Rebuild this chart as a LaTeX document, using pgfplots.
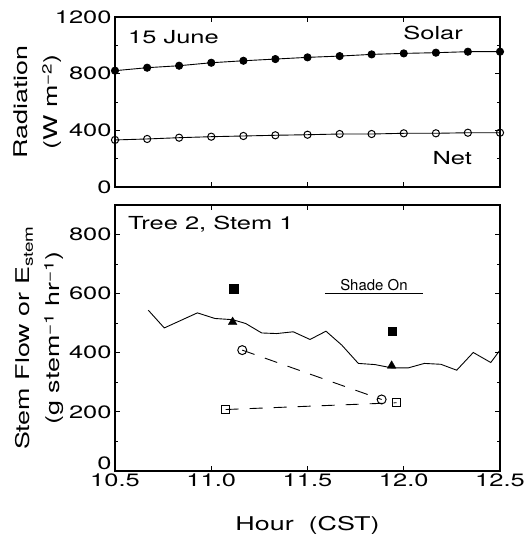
\documentclass[border=0pt]{standalone}
\usepackage{fontspec}
\setmainfont[FakeStretch=1.42]{TeX Gyre Heros}
\newfontfamily\plainfont{TeX Gyre Heros}
\usepackage{pgfplots}
\pgfplotsset{compat=1.18}

\pgfplotsset{
  panel/.style={
    scale only axis,
    width=385bp,
    xmin=10.5, xmax=12.5,
    xtick={10.5,11.0,11.5,12.0,12.5},
    tick align=inside,
    major tick length=5bp,
    minor tick length=3bp,
    axis line style={line width=1.1pt},
    tick style={line width=0.9pt, black},
    every tick label/.append style={font=\fontsize{18}{20}\selectfont},
    /pgf/number format/assume math mode=true,
    /pgf/number format/1000 sep={},
    clip=false,
  },
}

\begin{document}
\begin{tikzpicture}[x=1bp,y=1bp]
\useasboundingbox (0,0) rectangle (530,539);

% upper panel: radiation
\begin{axis}[panel,
  at={(115bp,352bp)}, anchor=south west,
  height=170bp,
  ymin=0, ymax=1200,
  ytick={0,400,800,1200},
  minor ytick={200,600,1000},
  xticklabels={},
]
\addplot[black, line width=0.9pt, mark=*, mark size=3.6bp,
  mark options={fill=black}] coordinates {
(10.5,821) (10.667,842) (10.833,856) (11.0,877) (11.167,891) (11.333,903)
(11.5,915) (11.667,924) (11.833,936) (12.0,943) (12.167,948) (12.333,955) (12.5,955)
};
\addplot[black, line width=0.9pt, mark=o, mark size=3.6bp,
  mark options={fill=white, line width=1pt}] coordinates {
(10.5,332) (10.667,339) (10.833,348) (11.0,355) (11.167,360) (11.333,365)
(11.5,369) (11.667,374) (11.833,374) (12.0,379) (12.167,379) (12.333,383) (12.5,383)
};
\node[anchor=west, font=\fontsize{18}{20}\selectfont] at (axis cs:10.55,1059) {15 June};
\node[anchor=east, inner sep=0pt, font=\fontsize{18}{20}\selectfont] at (axis cs:12.308,1087) {Solar};
\node[anchor=east, inner sep=0pt, font=\fontsize{18}{20}\selectfont] at (axis cs:12.355,205) {Net};
\node[rotate=90, align=center, font=\fontsize{19}{30}\selectfont]
  at (axis description cs:-0.2,0.5) {Radiation\\(W m\textsuperscript{−2})};
\end{axis}

% lower panel: stem flow
\begin{axis}[panel,
  at={(115bp,68bp)}, anchor=south west,
  height=266bp,
  ymin=0, ymax=900,
  ytick={200,400,600,800},
  minor ytick={100,300,500,700},
  extra y ticks={0},
  extra y tick style={yticklabel style={yshift=8bp}},
  xticklabel style={yshift=1bp, /pgf/number format/.cd, fixed, fixed zerofill, precision=1},
]
\addplot[black, line width=0.9pt] coordinates {
(10.673,544) (10.756,484) (10.928,535) (11.019,516) (11.111,512) (11.179,499)
(11.262,467) (11.340,465) (11.426,471) (11.513,445) (11.596,473) (11.678,426)
(11.764,364) (11.851,360) (11.937,349) (12.024,349) (12.107,364) (12.193,361)
(12.275,341) (12.361,401) (12.452,367) (12.5,409)
};
\addplot[only marks, mark=triangle*, mark size=5bp, black] coordinates {
(11.111,504) (11.937,356)
};
\addplot[only marks, mark=square*, mark size=4.2bp, black] coordinates {
(11.116,617) (11.94,473)
};
\addplot[black, line width=0.9pt, dash pattern=on 13bp off 11bp,
  mark=o, mark size=4.5bp, mark options={solid, fill=white, line width=1pt}] coordinates {
(11.161,409) (11.885,242)
};
\addplot[black, line width=0.9pt, dash pattern=on 13bp off 11bp,
  mark=square, mark size=4.2bp, mark options={solid, fill=white, line width=1pt}] coordinates {
(11.075,208) (11.963,231)
};
\addplot[black, line width=0.9pt] coordinates {(11.59,600) (12.1,600)};
\node[anchor=south, inner sep=3bp, font=\plainfont\fontsize{15}{16}\selectfont]
  at (axis cs:11.845,600) {Shade On};
\node[anchor=west, font=\fontsize{18}{20}\selectfont] at (axis cs:10.55,835) {Tree 2, Stem 1};
\node[rotate=90, align=center, font=\fontsize{19}{30}\selectfont]
  at (axis description cs:-0.195,0.5)
  {Stem Flow or E\textsubscript{stem}\\(g stem\textsuperscript{−1} hr\textsuperscript{−1})};
\node[font=\fontsize{19}{20}\selectfont] at (axis description cs:0.5,-0.203) {Hour\ \ (CST)};
\end{axis}
\end{tikzpicture}
\end{document}
